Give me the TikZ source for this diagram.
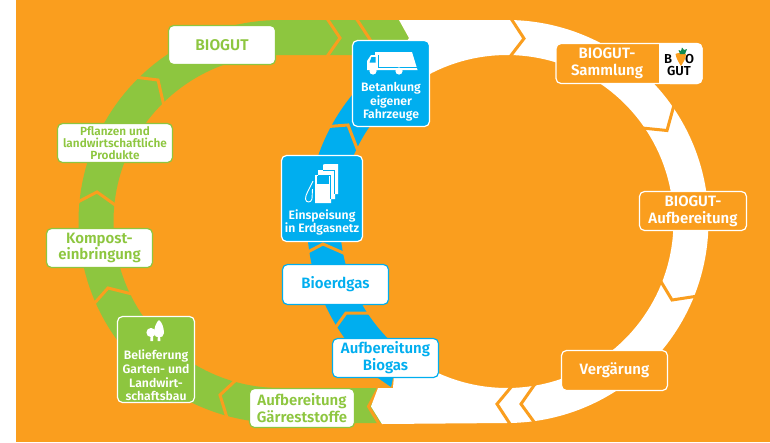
\documentclass[tikz,border=0pt]{standalone}
\usepackage{fontspec}
\setmainfont{Fira Sans}[BoldFont=Fira Sans SemiBold]
\definecolor{bg}{HTML}{FA9E1E}
\definecolor{grn}{HTML}{8DC63F}
\definecolor{blu}{HTML}{00AEEF}
\definecolor{leaf}{HTML}{0F8A4C}
\tikzset{
  x=1pt,y=-1pt,
  lbl/.style={rounded corners=5pt,line width=1.2pt,align=center,inner sep=0pt,font=\fontsize{15}{16.8}\selectfont\bfseries},
  gbox/.style={lbl,draw=grn,fill=white,text=grn},
  bbox/.style={lbl,draw=blu,fill=white,text=blu},
  obox/.style={lbl,draw=white,fill=bg,text=white},
  fgbox/.style={lbl,draw=white,fill=grn},
  fbbox/.style={lbl,draw=white,fill=blu},
  intext/.style={text=white,align=center,inner sep=0pt,font=\fontsize{12.2}{13.7}\selectfont\bfseries},
  gap/.style={draw=bg,line width=3pt,miter limit=10},
}
\begin{document}
\begin{tikzpicture}
\useasboundingbox (0,0) rectangle (770,442);
\fill[white] (0,0) rectangle (770,442);
\fill[bg] (16,0) rectangle (770,442);
% green ring
\fill[grn] (399,20) -- plot[domain=270:90,samples=90] ({280+201.5*cos(\x)},{221.5+201.5*sin(\x)}) -- (390,423) -- (390,388) -- plot[domain=90:270,samples=90] ({280+166.5*cos(\x)},{221.5+166.5*sin(\x)}) -- (398,55) -- (409,38) -- cycle;
% blue ring
\fill[blu] plot[domain=220:130,samples=60] ({507+200*cos(\x)},{221.5+200*sin(\x)}) -- (378,378) -- (391,387) -- (393,378) -- plot[domain=128:225,samples=60] ({507+167*cos(\x)},{221.5+167*sin(\x)}) -- cycle;
% gaps in the green and blue rings
\draw[gap] (326,17) -- (340,38) -- (326,58);
\draw[gap] (354,15) -- (371,41) -- (360,58);
\draw[gap] (134,77) -- (158,80) -- (164,106);
\draw[gap] (72,205) -- (97,192) -- (118,207);
\draw[gap] (92,306) -- (108,288) -- (132,294);
\draw[gap] (236,380) -- (220,395) -- (228,421);
\draw[gap] (322,127) -- (348,125) -- (358,151);
\draw[gap] (302,255) -- (323,244) -- (348,255);
\draw[gap] (333,331) -- (346,313) -- (372,313);
\draw[gap] (380,385) -- (368.5,406.5) -- (381,427);
% white ring
\fill[white] (399,20) -- plot[domain=-90:90,samples=120] ({507+201.5*cos(\x)},{221.5+201.5*sin(\x)}) -- (382,424) -- (371,406.5) -- (378,388) -- (393,388) -- (394,375) -- plot[domain=125:-125,samples=120] ({507+166.5*cos(\x)},{221.5+166.5*sin(\x)}) -- (398,55) -- (409,38) -- cycle;
% gaps in the white ring
\draw[gap] (510,17) -- (524,38.5) -- (509,58);
\draw[gap] (674,105) -- (667,130.5) -- (642,128);
\draw[gap] (660,280) -- (672,300) -- (698,296);
\draw[gap] (512,386) -- (497,404) -- (512,427);
\draw[gap] (535,384) -- (521,404) -- (537,426);
% boxes
\node[gbox,minimum width=107,minimum height=39] (biogut) at (222,45) {\fontsize{15.5}{17}\selectfont BIOGUT};
\node[gbox,minimum width=115,minimum height=39,font=\fontsize{11.8}{11.7}\selectfont\bfseries] (pfl) at (115,143) {Pflanzen und\\landwirtschaftliche\\Produkte};
\node[gbox,minimum width=106,minimum height=39] (kompost) at (99.5,248) {Kompost-\\einbringung};
\node[fgbox,minimum width=77,minimum height=86] (bel) at (156,359.5) {};
\node[gbox,minimum width=105,minimum height=39] (gaer) at (302,408) {Aufbereitung\\Gärreststoffe};
\node[bbox,minimum width=106,minimum height=40] (bioerd) at (335.5,284.5) {Bioerdgas};
\node[bbox,minimum width=106,minimum height=39] (aufb) at (385.5,358) {Aufbereitung\\Biogas};
\node[fbbox,minimum width=81,minimum height=86] (ein) at (322,198.5) {};
\node[fbbox,minimum width=77,minimum height=86] (bet) at (391,83.5) {};
\node[obox,minimum width=106,minimum height=40] (verg) at (614.5,370.5) {Vergärung};
\node[obox,minimum width=107,minimum height=39] (auf) at (693,211) {BIOGUT-\\Aufbereitung};
% texts inside the filled boxes
\node[intext] (belt) at (156,375.5) {Belieferung\\Garten- und\\Landwirt-\\schaftsbau};
\node[intext] (eint) at (322,222.5) {Einspeisung\\in Erdgasnetz};
\node[intext] (bett) at (391,102) {Betankung\\eigener\\Fahrzeuge};
% tree icon
\fill[white] (159,320) .. controls (156,322) and (154,329) .. (154,333) .. controls (154,339) and (164,339) .. (164,333) .. controls (164,328) and (162,322) .. (159,320) -- cycle;
\fill[white] (151,332.5) circle (4.6);
\fill[white] (150.6,334) -- (153,334) -- (153.2,341) -- (150.4,341) -- cycle;
\fill[white] (158,334) -- (160,334) -- (160.4,341) -- (157.6,341) -- cycle;
% pump icon
\fill[white] (323,166) .. controls (323,165) and (323,164) .. (325,164) -- (338,164) -- (338,194) -- (335,194) -- (335,199) -- (331,199) -- (331,203) -- (315,203) -- (315,175) -- (318,175) -- (318,170) -- (323,170) -- cycle;
\draw[blu,line width=.6pt] (323,170) -- (334,170) -- (334,194);
\draw[blu,line width=.6pt] (318,175) -- (330,175) -- (330,199);
\fill[blu] (316.5,176) rectangle (329,183.5);
\draw[white,line width=.9pt] (313,181) .. controls (310,188) and (305,195) .. (305.5,199) .. controls (306,203) and (311,203) .. (312,199) -- (312.5,189);
% truck icon
\fill[white] (375,52) -- (412,52) -- (417.5,70) -- (375,70) -- cycle;
\fill[white] (367,70) -- (367,61) -- (371,55) -- (378,55) -- (378,70) -- cycle;
\fill[blu] (371.5,57) -- (375.5,57) -- (375.5,62.5) -- (369.5,62.5) -- cycle;
\draw[blu,line width=.6pt] (378,55) -- (378,67) -- (417,67);
\fill[white] (373,71) circle (3.6);
\fill[white] (399,71) circle (3.6);
% BIOGUT-Sammlung with its logo
\node[obox,minimum width=146,minimum height=40] (samm) at (629,63.5) {};
\fill[white,rounded corners=5pt] (665,43) -- (702.5,43) -- (702.5,84) -- (665,84) -- cycle;
\fill[white] (659,43) rectangle (668,84);
\node[text=white,align=center,inner sep=0pt,font=\fontsize{15}{16.8}\selectfont\bfseries] (sammt) at (607,63.5) {BIOGUT-\\Sammlung};
\node[text=black,inner sep=0pt,font=\fontsize{13}{13}\selectfont\bfseries] (logob) at (668,59) {B};
\node[text=black,inner sep=0pt,font=\fontsize{13}{13}\selectfont\bfseries] (logoo) at (689.5,59) {O};
\node[text=black,inner sep=0pt,font=\fontsize{13}{13}\selectfont\bfseries] (logog) at (679,71) {GUT};
\fill[bg] (675.5,54) .. controls (678,52.5) and (684,52.5) .. (686,54) .. controls (686,58) and (683,63) .. (681,66) .. controls (679,63) and (676,58) .. (675.5,54) -- cycle;
\fill[leaf] (680,54) -- (678.5,50) -- (681,51) -- (682,47.5) -- (684,50) -- (687,49) -- (685,54) -- cycle;
\end{tikzpicture}
\end{document}
